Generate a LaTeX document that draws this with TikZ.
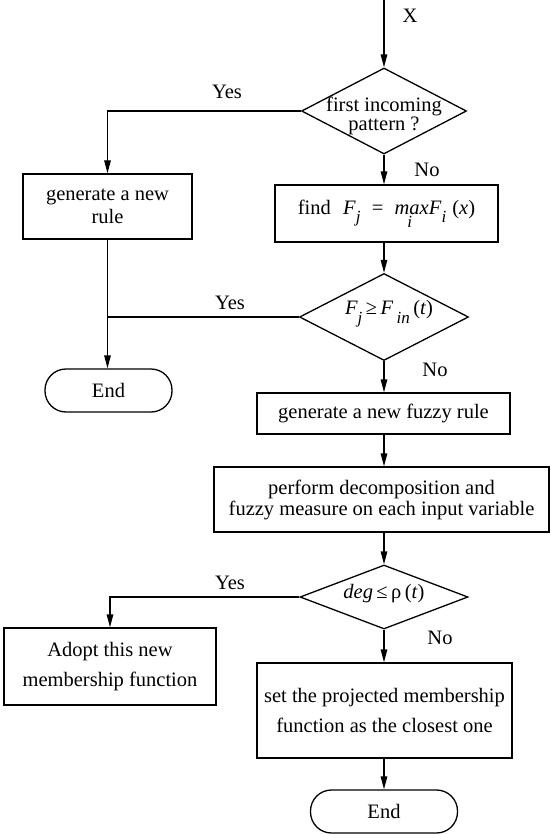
\documentclass[tikz,border=0pt]{standalone}
\usepackage{fontspec}
\setmainfont{Liberation Serif}
\usetikzlibrary{shapes.geometric,arrows.meta}
% lowered italic index used in the formulas
\newcommand\lowsub[1]{\raisebox{-0.42em}{\fontsize{17}{17}\selectfont\itshape #1}}

\begin{document}
\begin{tikzpicture}[x=1pt,y=-1pt,line width=1.3pt,
  font=\fontsize{20.5}{22}\selectfont,
  procbox/.style={draw,rectangle,inner sep=0pt,align=center},
  decide/.style={draw,diamond,inner sep=0pt},
  terminal/.style={draw,rectangle,rounded corners=21pt,inner sep=0pt},
  flow/.style={-{Triangle[length=13pt,width=6.5pt]}},
  tag/.style={inner sep=0pt}]
\useasboundingbox (0,0) rectangle (550,834);

% ---- main column ----
\coordinate (src) at (384,0);
\node[tag] (xin) at (410,16) {X};

\node[decide,minimum width=165pt,minimum height=86pt] (d1) at (384,111) {};
\node[tag,align=center,font=\fontsize{20.5}{17}\selectfont] (d1t) at (384,116) {first incoming\\pattern ?};

\node[procbox,minimum width=223pt,minimum height=57pt] (find) at (386.5,213.5)
  {find\hspace{0.6em}\textit{F}\lowsub{j}\hspace{0.55em}=\hspace{0.55em}\textit{ma}\llap{\raisebox{-0.62em}{\fontsize{17}{17}\selectfont\itshape i\hspace{0.45em}}}\textit{xF}\lowsub{i}\hspace{0.3em}(\textit{x})};

\node[decide,minimum width=169pt,minimum height=87pt] (d2) at (384,317) {};
\node[tag] (d2t) at (389,314) {\textit{F}\lowsub{j}\,≥\,\textit{F}\,\lowsub{in}\,(\textit{t})};

\node[procbox,minimum width=253pt,minimum height=41pt] (newfz) at (383.5,413.5) {generate a new fuzzy rule};

\node[procbox,minimum width=335pt,minimum height=65pt,font=\fontsize{20.5}{21}\selectfont] (decomp) at (381.5,499.5)
  {perform decomposition and\\fuzzy measure on each input variable};

\node[decide,minimum width=168pt,minimum height=64pt] (d3) at (384,597) {};
\node[tag] (d3t) at (384,594) {\textit{deg}\,≤\,ρ\,(\textit{t})};

\node[procbox,minimum width=255pt,minimum height=95pt,font=\fontsize{20.5}{30}\selectfont] (proj) at (384.5,710.5)
  {set the projected membership\\function as the closest one};

\node[terminal,minimum width=147pt,minimum height=43pt] (end2) at (384,811.5) {End};

% ---- left column ----
\node[procbox,minimum width=169pt,minimum height=65pt,font=\fontsize{20.5}{23}\selectfont] (newrule) at (107.5,206.5)
  {generate a new\\rule};
\node[terminal,minimum width=127pt,minimum height=43pt] (end1) at (108.5,390.5) {End};
\node[procbox,minimum width=212pt,minimum height=77pt,font=\fontsize{20.5}{30}\selectfont] (adopt) at (110,666.5)
  {Adopt this new\\membership function};

% ---- branch labels ----
\node[tag] (yes1) at (227,92) {Yes};
\node[tag] (no1) at (427,170) {No};
\node[tag] (yes2) at (230,303) {Yes};
\node[tag] (no2) at (435,370) {No};
\node[tag] (yes3) at (230,583) {Yes};
\node[tag] (no3) at (440,638) {No};

% ---- connectors along the main column ----
\draw[flow] (src) -- (d1.north);
\draw[flow] (d1.south) -- (d1.south |- find.north);
\draw[flow] (d1.south |- find.south) -- (d2.north);
\draw[flow] (d2.south) -- (d2.south |- newfz.north);
\draw[flow] (d2.south |- newfz.south) -- (d2.south |- decomp.north);
\draw[flow] (d2.south |- decomp.south) -- (d3.north);
\draw[flow] (d3.south) -- (d3.south |- proj.north);
\draw[flow] (d3.south |- proj.south) -- (end2.north);

% ---- branches to the left ----
\draw[flow] (d1.west) -| (newrule.north);
\coordinate (join) at (newrule.south |- d2.west);
\draw[flow] (newrule.south) -- (newrule.south |- end1.north);
\draw (d2.west) -- (join);
\draw[flow] (d3.west) -| (adopt.north);
\end{tikzpicture}
\end{document}
